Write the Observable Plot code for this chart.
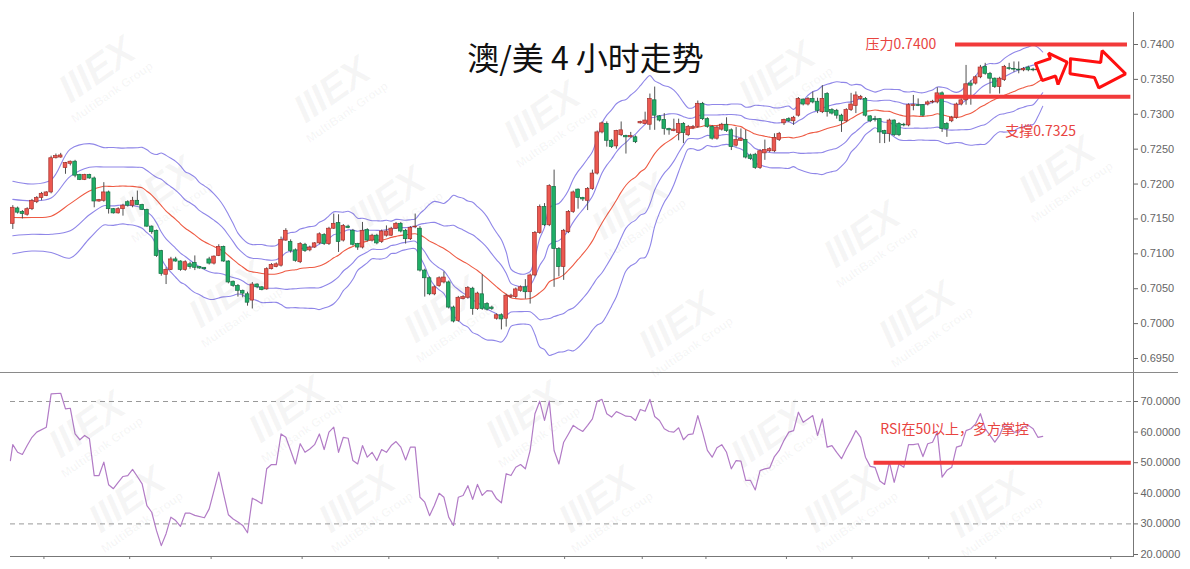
<!DOCTYPE html>
<html>
<head>
<meta charset="utf-8">
<script src="https://cdn.jsdelivr.net/npm/d3@7"></script>
<script src="https://cdn.jsdelivr.net/npm/@observablehq/plot@0.6"></script>
<style>
  html, body { margin: 0; padding: 0; background: #fff; }
  #wrap { position: relative; width: 1190px; height: 569px; overflow: hidden; background: #fff; }
  #main { position: absolute; left: 0; top: 0; }
  #rsi { position: absolute; left: 0; top: 373px; }
  #sep { position: absolute; left: 0; top: 372px; width: 1178px; height: 1px; background: #8a8a8a; }
  #wm { position: absolute; left: 0; top: 0; width: 1190px; height: 569px; pointer-events: none; }
  .wm { position: absolute; transform: translate(-50%, -50%) rotate(-35deg); color: rgba(110,110,110,0.06);
        font-family: "Liberation Sans", Arial, sans-serif; text-align: center; white-space: nowrap; line-height: 1; }
  .wm b { display: block; font-size: 40px; font-weight: 900; font-style: italic; letter-spacing: -1px; }
  .wm span { display: block; font-size: 12px; font-weight: 700; margin-top: 2px; }
</style>
</head>
<body>
<div id="wrap">
  <div id="main"></div>
  <div id="sep"></div>
  <div id="rsi"></div>
  <div id="wm"></div>
</div>
<script>
// ---------- AUD/USD 4-hour candles ----------
const candleOpen = [
0.7143,0.7165,0.7160,0.7156,0.7164,0.7174,0.7180,0.7183,0.7188,0.7237,
0.7238,0.7223,0.7229,0.7232,0.7213,0.7206,0.7213,0.7208,0.7175,0.7176,
0.7188,0.7164,0.7158,0.7164,0.7174,0.7169,0.7176,0.7170,0.7163,0.7139,
0.7133,0.7104,0.7070,0.7077,0.7092,0.7089,0.7077,0.7085,0.7087,0.7081,
0.7080,0.7092,0.7086,0.7097,0.7110,0.7089,0.7060,0.7054,0.7047,0.7042,
0.7033,0.7056,0.7052,0.7049,0.7078,0.7081,0.7083,0.7119,0.7117,0.7105,
0.7088,0.7113,0.7105,0.7109,0.7115,0.7127,0.7114,0.7136,0.7144,0.7119,
0.7139,0.7133,0.7114,0.7109,0.7134,0.7119,0.7126,0.7117,0.7126,0.7126,
0.7136,0.7143,0.7133,0.7121,0.7138,0.7136,0.7076,0.7065,0.7042,0.7054,
0.7059,0.7059,0.7023,0.7004,0.7035,0.7037,0.7050,0.7021,0.7042,0.7028,
0.7023,0.7007,0.7012,0.7007,0.7038,0.7038,0.7047,0.7052,0.7045,0.7069,
0.7130,0.7167,0.7141,0.7196,0.7107,0.7081,0.7131,0.7160,0.7192,0.7180,
0.7176,0.7193,0.7215,0.7274,0.7286,0.7262,0.7254,0.7270,0.7269,0.7267,
0.7267,0.7287,0.7286,0.7285,0.7320,0.7297,0.7292,0.7279,0.7276,0.7273,
0.7286,0.7270,0.7280,0.7282,0.7315,0.7293,0.7282,0.7265,0.7278,0.7285,
0.7277,0.7255,0.7262,0.7263,0.7241,0.7242,0.7223,0.7244,0.7247,0.7247,
0.7263,0.7287,0.7293,0.7290,0.7298,0.7321,0.7314,0.7322,0.7318,0.7303,
0.7329,0.7306,0.7305,0.7298,0.7290,0.7306,0.7312,0.7322,0.7322,0.7297,
0.7293,0.7293,0.7276,0.7272,0.7291,0.7286,0.7285,0.7284,0.7312,0.7313,
0.7313,0.7314,0.7317,0.7317,0.7330,0.7286,0.7290,0.7295,0.7314,0.7320,
0.7344,0.7344,0.7353,0.7368,0.7358,0.7351,0.7339,0.7349,0.7366,0.7365,
0.7364,0.7363,0.7367,0.7364,0.7363,0.7362];

const candleHigh = [
0.7169,0.7167,0.7162,0.7166,0.7178,0.7182,0.7188,0.7189,0.7240,0.7243,
0.7244,0.7231,0.7233,0.7234,0.7214,0.7214,0.7214,0.7210,0.7178,0.7202,
0.7190,0.7165,0.7166,0.7171,0.7176,0.7181,0.7190,0.7171,0.7164,0.7140,
0.7134,0.7105,0.7080,0.7095,0.7095,0.7090,0.7090,0.7088,0.7097,0.7082,
0.7080,0.7095,0.7097,0.7113,0.7111,0.7090,0.7061,0.7056,0.7048,0.7045,
0.7059,0.7057,0.7053,0.7080,0.7086,0.7087,0.7124,0.7136,0.7120,0.7107,
0.7116,0.7115,0.7111,0.7116,0.7130,0.7129,0.7138,0.7157,0.7156,0.7142,
0.7141,0.7135,0.7115,0.7145,0.7136,0.7128,0.7128,0.7134,0.7140,0.7138,
0.7145,0.7145,0.7135,0.7139,0.7157,0.7139,0.7078,0.7067,0.7054,0.7067,
0.7074,0.7061,0.7025,0.7039,0.7040,0.7053,0.7052,0.7045,0.7070,0.7030,
0.7025,0.7014,0.7014,0.7042,0.7042,0.7051,0.7054,0.7063,0.7071,0.7132,
0.7170,0.7172,0.7199,0.7220,0.7109,0.7135,0.7162,0.7190,0.7193,0.7181,
0.7195,0.7220,0.7276,0.7289,0.7289,0.7264,0.7277,0.7289,0.7270,0.7274,
0.7269,0.7290,0.7303,0.7329,0.7339,0.7298,0.7301,0.7280,0.7293,0.7293,
0.7288,0.7284,0.7284,0.7319,0.7317,0.7295,0.7284,0.7283,0.7287,0.7295,
0.7279,0.7281,0.7279,0.7277,0.7243,0.7244,0.7249,0.7263,0.7252,0.7272,
0.7274,0.7293,0.7295,0.7297,0.7324,0.7322,0.7324,0.7332,0.7323,0.7341,
0.7331,0.7308,0.7307,0.7300,0.7308,0.7330,0.7332,0.7327,0.7324,0.7298,
0.7297,0.7294,0.7277,0.7293,0.7292,0.7288,0.7287,0.7315,0.7327,0.7322,
0.7314,0.7319,0.7320,0.7338,0.7332,0.7288,0.7297,0.7316,0.7322,0.7370,
0.7348,0.7355,0.7370,0.7373,0.7360,0.7352,0.7353,0.7370,0.7373,0.7375,
0.7375,0.7367,0.7369,0.7366,0.7370,0.7363];

const candleLow = [
0.7135,0.7157,0.7150,0.7154,0.7162,0.7172,0.7176,0.7182,0.7186,0.7236,
0.7237,0.7214,0.7226,0.7209,0.7205,0.7205,0.7207,0.7166,0.7174,0.7174,
0.7157,0.7157,0.7157,0.7154,0.7167,0.7166,0.7169,0.7162,0.7138,0.7128,
0.7095,0.7068,0.7056,0.7076,0.7088,0.7075,0.7075,0.7078,0.7076,0.7078,
0.7077,0.7084,0.7084,0.7096,0.7088,0.7057,0.7052,0.7038,0.7037,0.7025,
0.7021,0.7050,0.7047,0.7048,0.7077,0.7080,0.7081,0.7118,0.7101,0.7088,
0.7086,0.7102,0.7103,0.7108,0.7113,0.7112,0.7112,0.7135,0.7102,0.7117,
0.7136,0.7111,0.7105,0.7107,0.7117,0.7117,0.7113,0.7115,0.7124,0.7125,
0.7135,0.7130,0.7114,0.7119,0.7136,0.7074,0.7038,0.7040,0.7040,0.7052,
0.7057,0.7021,0.7001,0.7002,0.7034,0.7035,0.7012,0.7019,0.7019,0.7018,
0.7019,0.7005,0.6991,0.6995,0.7036,0.7036,0.7045,0.7035,0.7028,0.7067,
0.7128,0.7139,0.7139,0.7052,0.7067,0.7062,0.7129,0.7158,0.7164,0.7175,
0.7162,0.7191,0.7213,0.7272,0.7253,0.7251,0.7250,0.7268,0.7243,0.7266,
0.7258,0.7286,0.7285,0.7277,0.7277,0.7289,0.7270,0.7270,0.7275,0.7262,
0.7258,0.7268,0.7278,0.7280,0.7291,0.7280,0.7263,0.7263,0.7276,0.7274,
0.7248,0.7253,0.7261,0.7236,0.7234,0.7221,0.7221,0.7234,0.7245,0.7245,
0.7261,0.7284,0.7288,0.7284,0.7296,0.7312,0.7312,0.7315,0.7301,0.7301,
0.7296,0.7299,0.7293,0.7274,0.7288,0.7304,0.7301,0.7320,0.7296,0.7288,
0.7289,0.7258,0.7258,0.7260,0.7268,0.7268,0.7282,0.7282,0.7305,0.7311,
0.7296,0.7312,0.7315,0.7315,0.7274,0.7267,0.7288,0.7293,0.7312,0.7313,
0.7313,0.7342,0.7351,0.7356,0.7329,0.7337,0.7329,0.7347,0.7363,0.7360,
0.7358,0.7361,0.7361,0.7361,0.7360,0.7357];

const candleClose = [
0.7166,0.7159,0.7157,0.7164,0.7176,0.7180,0.7186,0.7188,0.7237,0.7240,
0.7241,0.7230,0.7232,0.7212,0.7206,0.7213,0.7208,0.7175,0.7177,0.7188,
0.7164,0.7158,0.7164,0.7169,0.7169,0.7176,0.7170,0.7163,0.7139,0.7131,
0.7097,0.7071,0.7077,0.7092,0.7089,0.7077,0.7088,0.7081,0.7080,0.7079,
0.7078,0.7086,0.7096,0.7110,0.7089,0.7059,0.7054,0.7047,0.7043,0.7030,
0.7056,0.7052,0.7048,0.7078,0.7084,0.7085,0.7120,0.7133,0.7104,0.7090,
0.7114,0.7104,0.7109,0.7115,0.7128,0.7114,0.7136,0.7143,0.7117,0.7140,
0.7137,0.7113,0.7109,0.7133,0.7119,0.7126,0.7115,0.7132,0.7132,0.7136,
0.7143,0.7132,0.7121,0.7137,0.7139,0.7076,0.7065,0.7042,0.7052,0.7065,
0.7066,0.7023,0.7003,0.7037,0.7038,0.7051,0.7021,0.7043,0.7021,0.7020,
0.7021,0.7012,0.7006,0.7040,0.7040,0.7049,0.7052,0.7045,0.7069,0.7130,
0.7167,0.7141,0.7197,0.7107,0.7081,0.7133,0.7160,0.7188,0.7180,0.7178,
0.7193,0.7215,0.7274,0.7287,0.7262,0.7253,0.7276,0.7277,0.7267,0.7269,
0.7260,0.7289,0.7291,0.7322,0.7298,0.7291,0.7279,0.7277,0.7278,0.7286,
0.7273,0.7282,0.7282,0.7315,0.7293,0.7282,0.7265,0.7281,0.7285,0.7276,
0.7253,0.7263,0.7265,0.7238,0.7236,0.7223,0.7247,0.7249,0.7250,0.7266,
0.7272,0.7292,0.7290,0.7295,0.7322,0.7314,0.7322,0.7317,0.7305,0.7322,
0.7303,0.7301,0.7298,0.7290,0.7306,0.7314,0.7327,0.7325,0.7298,0.7290,
0.7292,0.7274,0.7272,0.7291,0.7270,0.7270,0.7284,0.7313,0.7313,0.7312,
0.7298,0.7317,0.7318,0.7330,0.7279,0.7279,0.7295,0.7314,0.7320,0.7343,
0.7341,0.7353,0.7367,0.7358,0.7351,0.7339,0.7351,0.7368,0.7365,0.7364,
0.7363,0.7365,0.7363,0.7363,0.7364,0.7359];

// Bollinger (20) values visible before the first full 20-candle window
const bandLeadIndex = [0, 4, 8, 12, 16];
const bandLeadMid   = [0.7152, 0.7152, 0.7154, 0.7172, 0.7190];
const bandLeadSd    = [0.0026, 0.0024, 0.0026, 0.0039, 0.0034];

// ---------- RSI line (vertices) ----------
const rsiIndex = [
-0.5,0,1,2,3,4,5,7,8,10,11,12,13,14,15,16,17,18,19,20,21,22,23,24,25,26,27,28,29,30,
31,32,33,34,35,36,37,38,40,41,42,43,44,45,46,47,48,49,50,51,52,53,54,55,56,57,58,59,60,
61,62,63,64,65,66,67,68,69,70,71,72,73,74,75,76,77,78,79,80,81,82,83,84,85,86,87,88,89,90,
91,92,93,94,95,96,97,98,99,100,101,102,103,104,105,106,107,108,109,110,111,112,113,114,115,
116,117,118,119,120,121,122,123,124,125,126,127,128,129,130,131,132,133,134,135,136,137,138,
139,140,141,142,143,144,145,146,147,148,149,150,151,152,153,154,155,156,157,158,159,160,161,
162,163,164,165,166,167,168,169,170,171,172,173,174,175,176,177,178,179,180,181,182,183,184,
185,186,187,188,189,190,191,192,193,194,195,196,197,198,199,200,201,202,203,204,205,206,207,
208,209,210,211,212,213,214,215];
const rsiValue = [
50.7,55.9,53.4,52.7,55.6,58.3,60.0,61.6,72.5,72.7,67.6,67.8,59.4,57.5,58.9,57.8,45.8,45.8,50.2,42.8,41.5,43.6,45.5,45.8,47.8,45.5,43.1,36.0,33.8,27.8,
22.9,26.8,32.2,31.1,29.2,33.5,33.5,32.8,32.0,34.9,40.9,46.9,39.8,33.0,31.6,30.6,29.5,27.1,38.4,37.6,36.6,48.0,49.4,49.4,59.4,58.3,54.0,49.6,56.2,
53.4,54.5,55.9,59.4,54.3,60.0,61.6,53.4,58.3,58.0,50.7,49.6,55.6,51.8,53.4,50.7,54.3,53.4,55.6,56.9,55.1,50.9,55.1,55.1,38.7,37.1,32.7,36.0,40.0,38.7,
32.2,29.5,38.7,39.3,42.5,38.0,42.9,39.3,40.9,40.7,38.2,36.9,46.4,45.8,48.5,49.4,48.0,54.0,66.0,70.1,63.8,70.1,54.0,49.6,56.7,
59.4,62.2,61.1,60.2,62.2,64.3,70.1,70.7,66.0,64.9,66.7,66.0,65.2,65.1,63.8,67.4,66.8,70.7,65.1,63.8,61.1,60.2,60.0,
61.4,57.5,59.2,59.4,65.4,60.0,54.0,51.8,54.9,55.9,53.4,48.0,50.7,50.5,44.2,44.2,41.1,47.4,48.0,48.3,52.0,54.0,57.3,
60.0,60.5,66.5,63.2,64.3,65.4,58.9,64.3,55.1,55.6,53.4,51.3,54.5,57.3,60.5,58.3,51.8,48.8,48.5,44.0,42.9,50.2,43.6,
49.6,48.5,55.9,55.9,56.2,52.0,56.2,56.7,60.0,45.3,47.5,48.5,55.1,55.6,60.5,61.1,62.7,66.0,61.1,58.9,56.7,58.9,62.7,
61.6,60.0,60.0,61.6,62.2,61.1,58.3,58.6];

// ---------- axes / ticks ----------
const priceTicks = [0.6950, 0.7000, 0.7050, 0.7100, 0.7150, 0.7200, 0.7250, 0.7300, 0.7350, 0.7400];
const rsiTicks = [20, 30, 40, 50, 60, 70];
const rsiGuides = [30, 70];
const dateTickIndex = [6.5, 24.4, 41.4, 60.4, 78.5, 101.3, 115.2, 131.4, 144.7, 161.5, 175.2, 191.2, 205.2, 229.2];

// ---------- annotations ----------
const chartTitle = "澳/美 4 小时走势";
const resistanceLevel = 0.7400, resistanceSpan = [196.8, 232.7], resistanceLabel = "压力0.7400";
const supportLevel = 0.7325, supportSpan = [192.6, 233.4], supportLabel = "支撑0.7325";
const supportLabelPos = [207.2, 0.72753];
const resistanceLabelPos = [178.0, 0.7400];
const rsiPivot = 50, rsiPivotSpan = [179.8, 233.5];
const rsiLabel = "RSI在50以上，多方掌控", rsiLabelPos = [181.1, 60.85];
const arrowSmallIndex = [213.5, 216.6, 216.2, 220.1, 218.2, 217.7, 214.9, 213.5];
const arrowSmallPrice = [0.73727, 0.73799, 0.73875, 0.73746, 0.73426, 0.73548, 0.73484, 0.73727];
const arrowBigIndex = [220.8, 227.1, 227.4, 232.3, 226.7, 225.8, 220.7, 220.8];
const arrowBigPrice = [0.73795, 0.73742, 0.73913, 0.73580, 0.73379, 0.73527, 0.73580, 0.73795];

// ---------- styling ----------
const RED = "#ec5850", RED_EDGE = "#a5302b", GREEN = "#1fae66", GREEN_EDGE = "#157044";
const BAND = "#8f86e8", MID = "#ee5a43", RSI_COLOR = "#b27bc6", MARK_RED = "#f23a3a", TEXT_RED = "#e8443f";
const CJK = "'Noto Sans CJK SC', 'Noto Sans', sans-serif";

// ---------- derived rows ----------
const candles = candleOpen.map((o, i) => ({i, o, h: candleHigh[i], l: candleLow[i], c: candleClose[i]}));
const rising = candles.filter(d => d.c >= d.o);
const falling = candles.filter(d => d.c < d.o);
const half = 0.38;

const N = 20;
const bandRows = bandLeadIndex.map((i, j) => ({i, mid: bandLeadMid[j], sd: bandLeadSd[j]}));
for (let i = N - 1; i < candleClose.length; i++) {
  const w = candleClose.slice(i - N + 1, i + 1);
  const m = d3.mean(w);
  bandRows.push({i, mid: m, sd: Math.sqrt(d3.mean(w, v => (v - m) ** 2))});
}
const rsiRows = rsiIndex.map((i, k) => ({i, v: rsiValue[k]}));
const arrowSmall = arrowSmallIndex.map((i, k) => ({i, p: arrowSmallPrice[k]}));
const arrowBig = arrowBigIndex.map((i, k) => ({i, p: arrowBigPrice[k]}));

const xScale = {type: "linear", domain: [0, candleOpen.length - 1], range: [12.3, 1042.2]};
const baseStyle = {background: "transparent", fontFamily: "'Liberation Sans', Arial, sans-serif"};

const bandLine = (k, color) => Plot.line(bandRows, {x: "i", y: d => d.mid + k * d.sd, stroke: color, strokeWidth: 1.1, curve: "catmull-rom"});

const main = Plot.plot({
  width: 1190, height: 372,
  marginLeft: 0, marginRight: 57, marginTop: 12, marginBottom: 0,
  style: baseStyle,
  x: {...xScale, axis: null},
  y: {domain: [0.695, 0.74], range: [358, 44]},
  marks: [
    bandLine(2, BAND), bandLine(1, BAND), bandLine(-1, BAND), bandLine(-2, BAND), bandLine(0, MID),
    Plot.ruleX(candles, {x: "i", y1: "l", y2: "h", stroke: "#505050", strokeWidth: 1}),
    Plot.rect(rising, {x1: d => d.i - half, x2: d => d.i + half, y1: "o", y2: "c", fill: RED, stroke: RED_EDGE, strokeWidth: 0.7}),
    Plot.rect(falling, {x1: d => d.i - half, x2: d => d.i + half, y1: "o", y2: "c", fill: GREEN, stroke: GREEN_EDGE, strokeWidth: 0.7}),
    Plot.ruleY([resistanceLevel], {x1: resistanceSpan[0], x2: resistanceSpan[1], stroke: MARK_RED, strokeWidth: 4}),
    Plot.ruleY([supportLevel], {x1: supportSpan[0], x2: supportSpan[1], stroke: MARK_RED, strokeWidth: 4}),
    Plot.line(arrowSmall, {x: "i", y: "p", stroke: "#ff1010", strokeWidth: 3, fill: "white", strokeLinejoin: "miter"}),
    Plot.line(arrowBig, {x: "i", y: "p", stroke: "#ff1010", strokeWidth: 3, fill: "white", strokeLinejoin: "miter"}),
    Plot.text([resistanceLabel], {x: resistanceLabelPos[0], y: resistanceLabelPos[1], textAnchor: "start", fill: TEXT_RED, fontSize: 14, fontFamily: CJK}),
    Plot.text([supportLabel], {x: supportLabelPos[0], y: supportLabelPos[1], textAnchor: "start", fill: TEXT_RED, fontSize: 14, fontFamily: CJK}),
    Plot.text([chartTitle], {frameAnchor: "top", dx: 18.5, dy: 35, fill: "#111", fontSize: 32, fontFamily: CJK}),
    Plot.frame({anchor: "right", stroke: "#777"}),
    Plot.axisY({anchor: "right", label: null, ticks: priceTicks, tickFormat: d3.format(".4f"), tickSize: 4, tickPadding: 3, fontSize: 11, color: "#666"})
  ]
});
document.getElementById("main").appendChild(main);

const rsi = Plot.plot({
  width: 1190, height: 186,
  marginLeft: 10, marginRight: 57, marginTop: 0, marginBottom: 3,
  style: baseStyle,
  x: xScale,
  y: {domain: [20, 70], range: [181, 28]},
  marks: [
    Plot.ruleY(rsiGuides, {stroke: "#999", strokeDasharray: "5,4", strokeWidth: 1}),
    Plot.line(rsiRows, {x: "i", y: "v", stroke: RSI_COLOR, strokeWidth: 1.2}),
    Plot.ruleY([rsiPivot], {x1: rsiPivotSpan[0], x2: rsiPivotSpan[1], stroke: MARK_RED, strokeWidth: 4}),
    Plot.text([rsiLabel], {x: rsiLabelPos[0], y: rsiLabelPos[1], textAnchor: "start", fill: TEXT_RED, fontSize: 14, fontFamily: CJK}),
    Plot.frame({anchor: "right", stroke: "#777"}),
    Plot.frame({anchor: "bottom", stroke: "#777"}),
    Plot.axisX({ticks: dateTickIndex, label: null, tickSize: 3, tickFormat: () => "", color: "#777"}),
    Plot.axisY({anchor: "right", label: null, ticks: rsiTicks, tickFormat: d3.format(".4f"), tickSize: 4, tickPadding: 3, fontSize: 11, color: "#666"})
  ]
});
document.getElementById("rsi").appendChild(rsi);

// faint background watermark of the source
const watermarkSpots = [[100,75],[335,95],[545,120],[780,80],[160,195],[390,205],[633,212],[865,240],[1060,175],
  [230,300],[445,315],[680,330],[920,320],[90,430],[290,415],[527,420],[772,440],[130,505],[360,505],[600,505],[845,505],[990,510]];
const wm = document.getElementById("wm");
for (const [x, y] of watermarkSpots) {
  const el = document.createElement("div");
  el.className = "wm";
  el.style.left = x + "px"; el.style.top = y + "px";
  el.innerHTML = "<b>IIIEX</b><span>MultiBank Group</span>";
  wm.appendChild(el);
}
</script>
</body>
</html>
